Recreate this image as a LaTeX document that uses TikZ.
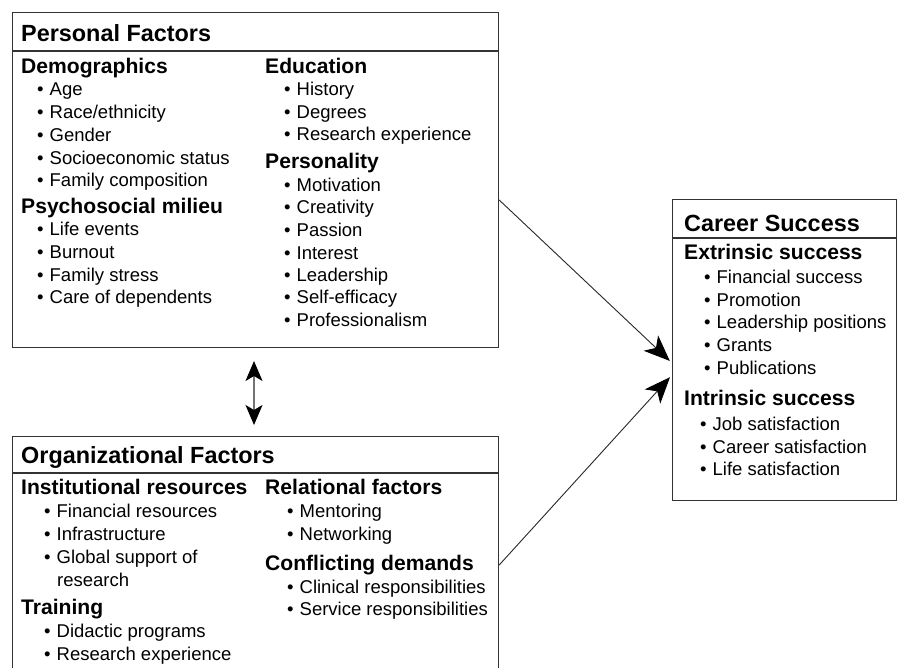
\documentclass[tikz,border=0pt]{standalone}
\usepackage{fontspec}
\setmainfont{Liberation Sans}
\usetikzlibrary{arrows.meta}
\newcommand\itembul{\textbullet\hspace{6pt}}
\begin{document}
\begin{tikzpicture}[x=1pt,y=-1pt,
  box/.style={draw=black!80, line width=1.2pt, anchor=north west, inner sep=0pt},
  ttl/.style={anchor=base west, inner sep=0pt, font=\fontsize{23.4}{27}\selectfont\bfseries},
  hd/.style={anchor=base west, inner sep=0pt, font=\fontsize{21.1}{25}\selectfont\bfseries},
  it/.style={anchor=base west, inner sep=0pt, font=\fontsize{18.5}{22}\selectfont},
  sep/.style={draw=black!80, line width=1.2pt},
  arr/.style={draw=black!85, line width=0.9pt, shorten >=3pt, -{Stealth[length=26pt,width=21pt,inset=7pt,color=black]}},
  darr/.style={draw=black!55, line width=1.3pt, {Stealth[length=20pt,width=17pt,inset=5pt,color=black]}-{Stealth[length=20pt,width=17pt,inset=5pt,color=black]}}
]
\useasboundingbox (0,0) rectangle (901,667);
\clip (0,0) rectangle (901,667);

% boxes
\node[box, minimum width=486pt, minimum height=335pt] (pf) at (12,12) {};
\node[box, minimum width=486pt, minimum height=240pt] (of) at (12,436) {};
\node[box, minimum width=224pt, minimum height=301pt] (cs) at (672,199) {};
\draw[sep] (pf.west |- 0,51) -- (pf.east |- 0,51);
\draw[sep] (of.west |- 0,473) -- (of.east |- 0,473);
\draw[sep] (cs.west |- 0,238) -- (cs.east |- 0,238);

% Personal factors
\node[ttl] (pft) at (21,41) {Personal Factors};
\node[hd] (dem) at (21,73) {Demographics};
\node[it] (d1) at (37,95) {\itembul Age};
\node[it] (d2) at (37,118) {\itembul Race/ethnicity};
\node[it] (d3) at (37,141) {\itembul Gender};
\node[it] (d4) at (37,164) {\itembul Socioeconomic status};
\node[it] (d5) at (37,186) {\itembul Family composition};
\node[hd] (psy) at (21,213) {Psychosocial milieu};
\node[it] (p1) at (37,235) {\itembul Life events};
\node[it] (p2) at (37,258) {\itembul Burnout};
\node[it] (p3) at (37,281) {\itembul Family stress};
\node[it] (p4) at (37,303) {\itembul Care of dependents};
\node[hd] (edu) at (265,73) {Education};
\node[it] (e1) at (284,95) {\itembul History};
\node[it] (e2) at (284,118) {\itembul Degrees};
\node[it] (e3) at (284,140) {\itembul Research experience};
\node[hd] (per) at (265,168) {Personality};
\node[it] (r1) at (284,191) {\itembul Motivation};
\node[it] (r2) at (284,213) {\itembul Creativity};
\node[it] (r3) at (284,236) {\itembul Passion};
\node[it] (r4) at (284,259) {\itembul Interest};
\node[it] (r5) at (284,281) {\itembul Leadership};
\node[it] (r6) at (284,303) {\itembul Self-efficacy};
\node[it] (r7) at (284,326) {\itembul Professionalism};

% Organizational factors
\node[ttl] (oft) at (21,463) {Organizational Factors};
\node[hd] (ins) at (21,494) {Institutional resources};
\node[it] (i1) at (44,517) {\itembul Financial resources};
\node[it] (i2) at (44,540) {\itembul Infrastructure};
\node[it] (i3) at (44,563) {\itembul Global support of};
\node[it] (i4) at (57,586) {research};
\node[hd] (tra) at (21,614) {Training};
\node[it] (t1) at (44,637) {\itembul Didactic programs};
\node[it] (t2) at (44,660) {\itembul Research experience};
\node[hd] (rel) at (265,494) {Relational factors};
\node[it] (l1) at (287,517) {\itembul Mentoring};
\node[it] (l2) at (287,540) {\itembul Networking};
\node[hd] (con) at (265,570) {Conflicting demands};
\node[it] (c1) at (287,593) {\itembul Clinical responsibilities};
\node[it] (c2) at (287,615) {\itembul Service responsibilities};

% Career success
\node[ttl] (cst) at (684,231) {Career Success};
\node[hd] (ext) at (684,259) {Extrinsic success};
\node[it] (x1) at (704,283) {\itembul Financial success};
\node[it] (x2) at (704,306) {\itembul Promotion};
\node[it] (x3) at (704,328) {\itembul Leadership positions};
\node[it] (x4) at (704,351) {\itembul Grants};
\node[it] (x5) at (704,374) {\itembul Publications};
\node[hd] (intr) at (684,405) {Intrinsic success};
\node[it] (n1) at (700,430) {\itembul Job satisfaction};
\node[it] (n2) at (700,453) {\itembul Career satisfaction};
\node[it] (n3) at (700,475) {\itembul Life satisfaction};

% connectors
\draw[arr] (pf.east |- 0,200) -- (cs.west |- 0,363);
\draw[arr] (of.east |- 0,565) -- (cs.west |- 0,375);
\coordinate (dtop) at (254,361);
\coordinate (dbot) at (254,425);
\draw[darr] (dtop) -- (dbot);
\end{tikzpicture}
\end{document}
